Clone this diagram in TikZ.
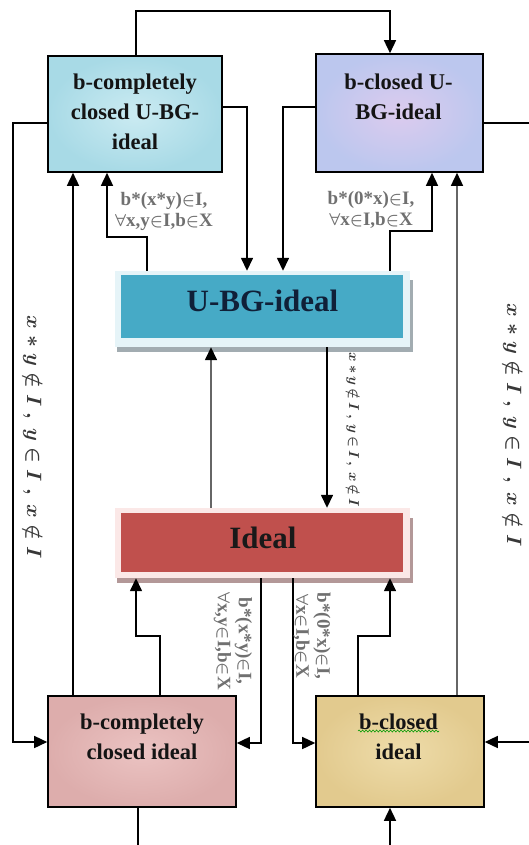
\documentclass[tikz,border=0pt]{standalone}
\usepackage{fontspec}
\setmainfont{Liberation Serif}
\usetikzlibrary{arrows.meta,decorations.pathmorphing}

\definecolor{aquaIn}{HTML}{CBEBF2}
\definecolor{aquaOut}{HTML}{A8DAE6}
\definecolor{lilacIn}{HTML}{DCCBEE}
\definecolor{lilacOut}{HTML}{BCC7EE}
\definecolor{roseIn}{HTML}{EBC3C2}
\definecolor{roseOut}{HTML}{DDADAC}
\definecolor{sandIn}{HTML}{EEDCAA}
\definecolor{sandOut}{HTML}{E2CA8E}
\definecolor{ubgBody}{HTML}{46AAC6}
\definecolor{ubgFrame}{HTML}{E6F4F8}
\definecolor{ubgShadow}{HTML}{A2ACB1}
\definecolor{ubgInk}{HTML}{102038}
\definecolor{idealBody}{HTML}{C0504D}
\definecolor{idealFrame}{HTML}{FBE8E7}
\definecolor{idealShadow}{HTML}{B39898}
\definecolor{condInk}{HTML}{707070}

\newcommand\gp{\hskip 6pt}
\newcommand\gq{\hskip 3pt}

\begin{document}
\begin{tikzpicture}[x=1pt,y=-1pt,
  wire/.style={line width=1.5pt, draw=black},
  arr/.style={wire, -{Triangle[length=13pt,width=12pt]}},
  greyarr/.style={line width=1.5pt, draw=black!60, -{Triangle[length=13pt,width=12pt,color=black]}},
  box/.style={draw=black, line width=1.6pt, inner sep=0pt},
  boxtext/.style={font=\bfseries\fontsize{22.5}{30}\selectfont, align=center, text=black!92, inner sep=0pt},
  bigtext/.style={font=\bfseries\fontsize{31}{31}\selectfont, inner sep=0pt, anchor=base},
  cond/.style={font=\bfseries\boldmath\fontsize{19}{21}\selectfont, text=condInk, align=center, inner sep=0pt},
  slant/.style={font=\boldmath\fontsize{20}{20}\selectfont, text=black!78, rotate=-90, inner sep=0pt},
]
\useasboundingbox (0,0) rectangle (528,845);

% ---------- four outer boxes ----------
\node[box, minimum width=174pt, minimum height=116pt, inner color=aquaIn, outer color=aquaOut] (A) at (135,114) {};
\node[box, minimum width=167pt, minimum height=118pt, inner color=lilacIn, outer color=lilacOut] (B) at (399.5,113) {};
\node[box, minimum width=188pt, minimum height=111pt, inner color=roseIn, outer color=roseOut] (C) at (142,751.5) {};
\node[box, minimum width=168pt, minimum height=111pt, inner color=sandIn, outer color=sandOut] (D) at (400,751.5) {};

\node[boxtext] (Atext) at (135,112) {b-completely\\closed U-BG-\\ideal};
\node[boxtext] (Btext) at (398.5,97) {b-closed U-\\BG-ideal};
\node[boxtext] (Ctext) at (142,737) {b-completely\\closed ideal};
\node[boxtext] (Dtext) at (398.5,737) {b-closed\\ideal};
% spell-check squiggle under the first word
\draw[green!60!black, line width=0.6pt, decorate, decoration={snake, amplitude=1pt, segment length=3.5pt}]
  (358,731) -- (439,731);

% ---------- U-BG-ideal bar ----------
\fill[ubgShadow] (117,280) rectangle (413,352);
\node[fill=ubgFrame, minimum width=295pt, minimum height=76pt, inner sep=0pt] (U) at (262.5,309) {};
\node[fill=ubgBody, minimum width=282pt, minimum height=63pt, inner sep=0pt] (Ubody) at (262,306.5) {};
\node[bigtext, text=ubgInk] (Ulabel) at (262.5,311) {U-BG-ideal};

% ---------- Ideal bar ----------
\fill[idealShadow] (117,518) rectangle (413,583);
\node[fill=idealFrame, minimum width=295pt, minimum height=70pt, inner sep=0pt] (I) at (262.5,543) {};
\node[fill=idealBody, minimum width=282pt, minimum height=59pt, inner sep=0pt] (Ibody) at (262,542.5) {};
\node[bigtext, text=black!90] (Ilabel) at (263,548) {Ideal};

% ---------- bend points ----------
\coordinate (t1) at (136,11);
\coordinate (t2) at (390,11);
\coordinate (k1) at (247,107);
\coordinate (k2) at (283,107);
\coordinate (k3) at (13,123);
\coordinate (k4) at (13,742);
\coordinate (k5) at (540,123);
\coordinate (k6) at (540,742);
\coordinate (k7) at (138,870);
\coordinate (k8) at (390,870);
\coordinate (k9) at (73,0);
\coordinate (k10) at (147,237);
\coordinate (k11) at (107,237);
\coordinate (k12) at (390,231);
\coordinate (k13) at (432,231);
\coordinate (k14) at (457,0);
\coordinate (k15) at (211,0);
\coordinate (k16) at (327,0);
\coordinate (k17) at (160,636);
\coordinate (k18) at (136,636);
\coordinate (k19) at (261,743);
\coordinate (k20) at (293,743);
\coordinate (k21) at (358,636);
\coordinate (k22) at (390,636);

% ---------- connectors ----------
\draw[arr] (A.north -| t1) -- (t1) -- (t2) -- (B.north -| t2);
\draw[arr] (A.east |- k1) -- (k1) -- (U.north -| k1);
\draw[arr] (B.west |- k2) -- (k2) -- (U.north -| k2);
\draw[arr] (A.west |- k3) -- (k3) -- (k4) -- (C.west |- k4);
\draw[arr] (B.east |- k5) -- (k5) -- (k6) -- (D.east |- k6);
\draw[arr] (C.south -| k7) -- (k7) -- (k8) -- (D.south -| k8);
\draw[arr] (C.north -| k9) -- (A.south -| k9);
\draw[arr] (U.north -| k10) -- (k10) -- (k11) -- (A.south -| k11);
\draw[arr] (U.north -| k12) -- (k12) -- (k13) -- (B.south -| k13);
\draw[greyarr] (D.north -| k14) -- (B.south -| k14);
\draw[greyarr] (I.north -| k15) -- (U.south -| k15);
\draw[arr] (U.south -| k16) -- (I.north -| k16);
\draw[arr] (C.north -| k17) -- (k17) -- (k18) -- (I.south -| k18);
\draw[arr] (I.south -| k19) -- (k19) -- (C.east |- k19);
\draw[arr] (I.south -| k20) -- (k20) -- (D.west |- k20);
\draw[arr] (D.north -| k21) -- (k21) -- (k22) -- (I.south -| k22);

% ---------- conditions ----------
\node[cond] (L1) at (164,211) {b*(x*y)$\in$I,\\$\forall$x,y$\in$I,b$\in$X};
\node[cond] (L2) at (371,210) {b*(0*x)$\in$I,\\$\forall$x$\in$I,b$\in$X};
\node[cond, rotate=-90] (L6) at (233,641) {b*(x*y)$\in$I,\\$\forall$x,y$\in$I,b$\in$X};
\node[cond, rotate=-90] (L7) at (312,636) {b*(0*x)$\in$I,\\$\forall$x$\in$I,b$\in$X};

\node[slant] (L4) at (33,437) {$x\gp{*}\gp y\gp{\notin}\gp I\gp,\gp y\gp{\in}\gp I\gp,\gp x\gp{\notin}\gp I$};
\node[slant] (L5) at (513,425) {$x\gp{*}\gp y\gp{\notin}\gp I\gp,\gp y\gp{\in}\gp I\gp,\gp x\gp{\notin}\gp I$};
\node[slant, font=\boldmath\fontsize{14}{14}\selectfont] (L3) at (353,430) {$x\gq{*}\gq y\gq{\notin}\gq I\gq,\gq y\gq{\in}\gq I\gq,\gq x\gq{\notin}\gq I$};
\end{tikzpicture}
\end{document}
